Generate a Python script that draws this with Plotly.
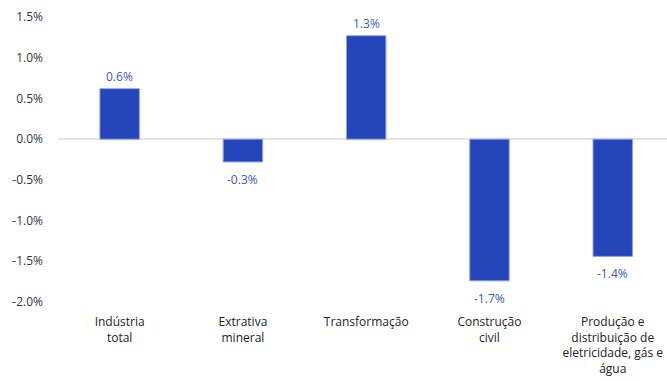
import plotly.graph_objects as go

categories = ["Indústria<br>total", "Extrativa<br>mineral", "Transformação",
              "Construção<br>civil", "Produção e<br>distribuição de<br>eletricidade, gás e<br>água"]
values = [0.62, -0.28, 1.27, -1.74, -1.44]
labels = ["0.6%", "-0.3%", "1.3%", "-1.7%", "-1.4%"]
tick_vals = [1.5, 1.0, 0.5, 0.0, -0.5, -1.0, -1.5, -2.0]
tick_text = ["1.5%", "1.0%", "0.5%", "0.0%", "-0.5%", "-1.0%", "-1.5%", "-2.0%"]

FONT = "Open Sans"
xs = list(range(len(categories)))

fig = go.Figure(go.Bar(
    x=xs, y=values,
    marker=dict(color="#2545bb", line=dict(color="#8fa0dd", width=1)),
    width=0.32,
))
for x, v, t in zip(xs, values, labels):
    fig.add_annotation(x=x, y=v, text=t, showarrow=False,
                       yanchor="bottom" if v >= 0 else "top",
                       yshift=2 if v >= 0 else -7,
                       font=dict(color="#3a55c8", size=12, family=FONT))
fig.update_layout(
    width=667, height=381, margin=dict(l=58, r=0, t=17, b=79),
    paper_bgcolor="white", plot_bgcolor="white", showlegend=False,
    font=dict(family=FONT, size=12, color="#333333"),
    xaxis=dict(tickmode="array", tickvals=xs, ticktext=categories,
               range=[-0.5, 4.44], showgrid=False, zeroline=False, showline=False,
               ticks="", tickangle=0, ticklabelstandoff=11,
               tickfont=dict(size=12, color="#222222", family=FONT)),
    yaxis=dict(range=[-2.0, 1.5], tickmode="array", tickvals=tick_vals, ticktext=tick_text,
               showgrid=False, zeroline=True, zerolinecolor="#e3e3e3", zerolinewidth=2,
               ticklabelstandoff=14, tickfont=dict(size=12, color="#333333", family=FONT)),
)
fig.write_html("out.html")
